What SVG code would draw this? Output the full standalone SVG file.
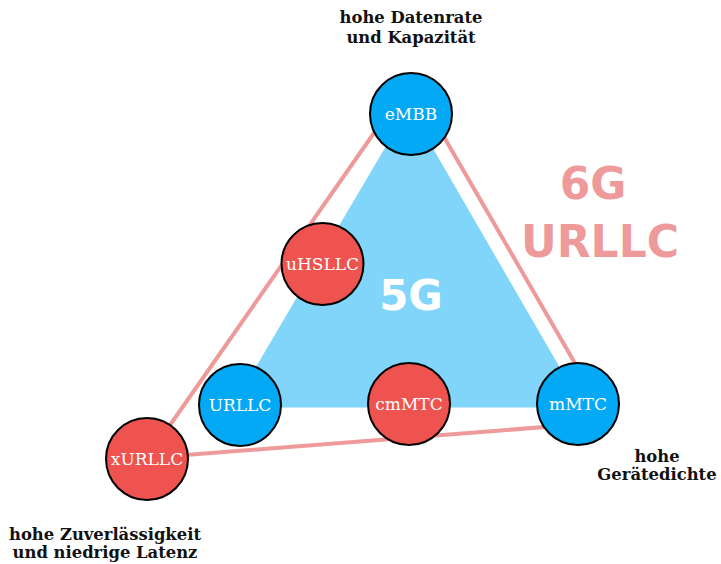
<svg xmlns="http://www.w3.org/2000/svg" width="721" height="564" viewBox="0 0 721 564">
<style>
.node circle{stroke:#000;stroke-width:2}
.blue circle{fill:#03a9f4}
.red circle{fill:#ef5350}
.node text{font-family:"DejaVu Serif",serif;font-size:17px;fill:#fff;text-anchor:middle}
.lbl{font-family:"DejaVu Serif",serif;font-size:16.4px;font-weight:bold;fill:#111;text-anchor:middle}
.big{font-family:"DejaVu Sans",sans-serif;font-weight:bold;text-anchor:middle}
.conn{fill:none;stroke:#ef9a9a;stroke-width:4;stroke-linejoin:round}
</style>
<rect width="721" height="564" fill="#fff"/>
<polygon id="area5g" points="409,107 232,407.5 583,407.5" fill="#81d4fa"/>
<g id="connectors">
<polygon class="conn" points="411,80 147,458 609,422"/>
</g>
<text class="big" x="411" y="310" font-size="42" fill="#fff">5G</text>
<text class="big" x="593" y="199" font-size="44" fill="#ef9a9a">6G</text>
<text class="big" x="600" y="257" font-size="44" fill="#ef9a9a">URLLC</text>
<g id="eMBB" class="node blue"><circle cx="411" cy="114" r="41"/><text x="411" y="120">eMBB</text></g>
<g id="uHSLLC" class="node red"><circle cx="322.5" cy="264" r="41"/><text x="322.5" y="270">uHSLLC</text></g>
<g id="URLLC" class="node blue"><circle cx="240" cy="405" r="41"/><text x="240" y="411">URLLC</text></g>
<g id="cmMTC" class="node red"><circle cx="409" cy="404" r="41"/><text x="409" y="410">cmMTC</text></g>
<g id="mMTC" class="node blue"><circle cx="578" cy="404" r="41"/><text x="578" y="410">mMTC</text></g>
<g id="xURLLC" class="node red"><circle cx="147" cy="459" r="41"/><text x="147" y="465">xURLLC</text></g>
<text class="lbl" x="411" y="22.5">hohe Datenrate</text>
<text class="lbl" x="411" y="42.5">und Kapazität</text>
<text class="lbl" x="105" y="540">hohe Zuverlässigkeit</text>
<text class="lbl" x="105" y="558">und niedrige Latenz</text>
<text class="lbl" x="657" y="461.5">hohe</text>
<text class="lbl" x="657" y="480">Gerätedichte</text>
</svg>
